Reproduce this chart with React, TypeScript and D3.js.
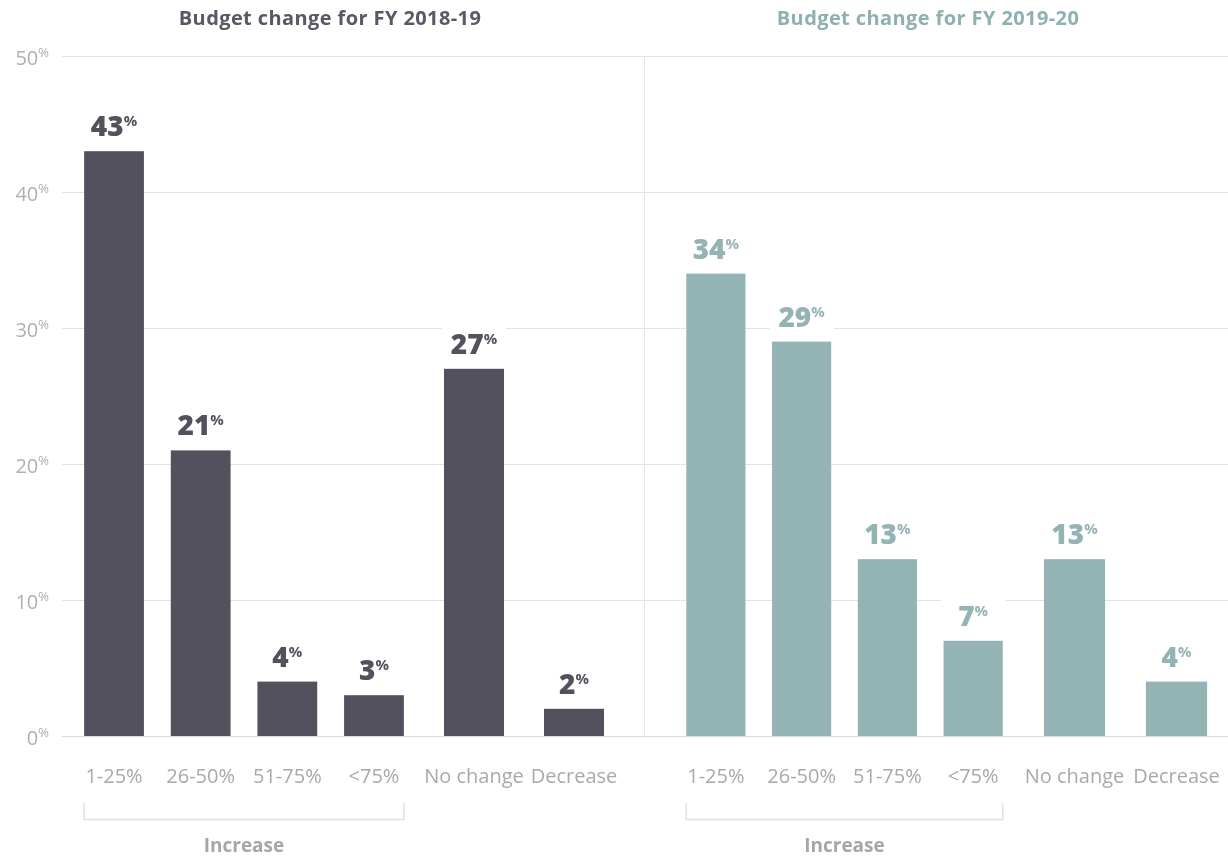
import React, { useRef, useEffect } from 'react';
import * as d3 from 'd3';

const increaseCats = ['1-25%', '26-50%', '51-75%', '<75%'];
const otherCats = ['No change', 'Decrease'];
const yTicks = [0, 10, 20, 30, 40, 50];

const titleFY1819 = 'Budget change for FY 2018-19';
const titleFY1920 = 'Budget change for FY 2019-20';

const increaseFY1819 = [43, 21, 4, 3];
const otherFY1819 = [27, 2];
const increaseFY1920 = [34, 29, 13, 7];
const otherFY1920 = [13, 4];

const width = 1228;
const height = 857;
const font = '"Open Sans", Lato, sans-serif';

interface Panel {
  title: string;
  color: string;
  titleColor: string;
  increase: number[];
  other: number[];
  incRange: [number, number];
  otherRange: [number, number];
  titleX: number;
}

const panels: Panel[] = [
  {
    title: titleFY1819,
    color: '#54515f',
    titleColor: '#5a5766',
    increase: increaseFY1819,
    other: otherFY1819,
    incRange: [70.7, 417.3],
    otherRange: [424, 624],
    titleX: 330,
  },
  {
    title: titleFY1920,
    color: '#93b3b5',
    titleColor: '#8fb0b1',
    increase: increaseFY1920,
    other: otherFY1920,
    incRange: [673, 1016],
    otherRange: [1023.5, 1227.5],
    titleX: 928,
  },
];

const Chart: React.FC = () => {
  const ref = useRef<SVGSVGElement | null>(null);

  useEffect(() => {
    if (!ref.current) return;
    const svg = d3.select(ref.current);
    svg.selectAll('*').remove();

    const y = d3.scaleLinear().domain([0, 50]).range([736, 56]);
    const gridLeft = 62;

    // gridlines
    svg.append('g')
      .selectAll('line')
      .data(yTicks)
      .enter().append('line')
      .attr('x1', gridLeft)
      .attr('x2', width)
      .attr('y1', d => y(d) + 0.5)
      .attr('y2', d => y(d) + 0.5)
      .attr('stroke', d => (d === 0 ? '#dadada' : '#e3e3e3'))
      .attr('stroke-width', 1);

    // y tick labels
    const yl = svg.append('g')
      .selectAll('text')
      .data(yTicks)
      .enter().append('text')
      .attr('x', 49)
      .attr('y', d => y(d) + 9)
      .attr('text-anchor', 'end')
      .attr('fill', '#b0b0b0')
      .attr('font-family', font)
      .attr('font-size', 20);
    yl.append('tspan').text(d => String(d));
    yl.append('tspan')
      .attr('font-size', 13)
      .attr('dy', -8)
      .text('%');

    // panel divider
    svg.append('line')
      .attr('x1', 644.5).attr('x2', 644.5)
      .attr('y1', y(50)).attr('y2', y(0))
      .attr('stroke', '#e8e8e8');

    panels.forEach(p => {
      const xInc = d3.scaleBand<string>()
        .domain(increaseCats)
        .range(p.incRange)
        .paddingInner(0.31)
        .paddingOuter(0.155);
      const xOther = d3.scaleBand<string>()
        .domain(otherCats)
        .range(p.otherRange)
        .paddingInner(0.4)
        .paddingOuter(0.2);

      const bars = [
        ...increaseCats.map((c, i) => ({ cat: c, v: p.increase[i], x: xInc(c) || 0, w: xInc.bandwidth() })),
        ...otherCats.map((c, i) => ({ cat: c, v: p.other[i], x: xOther(c) || 0, w: xOther.bandwidth() })),
      ];

      const g = svg.append('g');

      g.append('text')
        .attr('x', p.titleX)
        .attr('y', 25)
        .attr('text-anchor', 'middle')
        .attr('font-family', font)
        .attr('font-weight', 700)
        .attr('font-size', 20)
        .attr('letter-spacing', 0.4)
        .attr('fill', p.titleColor)
        .text(p.title);

      g.selectAll('rect.bar')
        .data(bars)
        .enter().append('rect')
        .attr('class', 'bar')
        .attr('x', d => d.x)
        .attr('y', d => y(d.v))
        .attr('width', d => d.w)
        .attr('height', d => y(0) - y(d.v))
        .attr('fill', p.color);

      // label backgrounds
      g.selectAll('rect.bg')
        .data(bars)
        .enter().append('rect')
        .attr('class', 'bg')
        .attr('x', d => d.x + d.w / 2 - 32)
        .attr('y', d => y(d.v) - 44)
        .attr('width', 64)
        .attr('height', 36)
        .attr('fill', '#fff');

      const vl = g.selectAll('text.val')
        .data(bars)
        .enter().append('text')
        .attr('class', 'val')
        .attr('x', d => d.x + d.w / 2)
        .attr('y', d => y(d.v) - 15)
        .attr('text-anchor', 'middle')
        .attr('font-family', font)
        .attr('font-weight', 800)
        .attr('font-size', 28)
        .attr('fill', p.color);
      vl.append('tspan').text(d => String(d.v));
      vl.append('tspan')
        .attr('font-size', 15)
        .attr('font-weight', 700)
        .attr('dy', -10)
        .text('%');

      g.selectAll('text.cat')
        .data(bars)
        .enter().append('text')
        .attr('class', 'cat')
        .attr('x', d => d.x + d.w / 2)
        .attr('y', 783)
        .attr('text-anchor', 'middle')
        .attr('font-family', font)
        .attr('font-size', 20)
        .attr('fill', '#a9a9a9')
        .text(d => d.cat);

      // increase bracket
      const bx0 = (xInc(increaseCats[0]) || 0);
      const bx1 = (xInc(increaseCats[3]) || 0) + xInc.bandwidth();
      g.append('path')
        .attr('d', `M${bx0},803V819.5H${bx1}V803`)
        .attr('fill', 'none')
        .attr('stroke', '#e0e0e0')
        .attr('stroke-width', 1.5);
      g.append('text')
        .attr('x', (bx0 + bx1) / 2)
        .attr('y', 852)
        .attr('text-anchor', 'middle')
        .attr('font-family', font)
        .attr('font-weight', 700)
        .attr('font-size', 19)
        .attr('fill', '#a6a6a6')
        .text('Increase');
    });
  }, []);

  return <svg ref={ref} width={width} height={height} style={{ display: 'block' }} />;
};

export default function App() {
  return (
    <div style={{ position: 'fixed', left: 0, top: 0 }}>
      <Chart />
    </div>
  );
}
